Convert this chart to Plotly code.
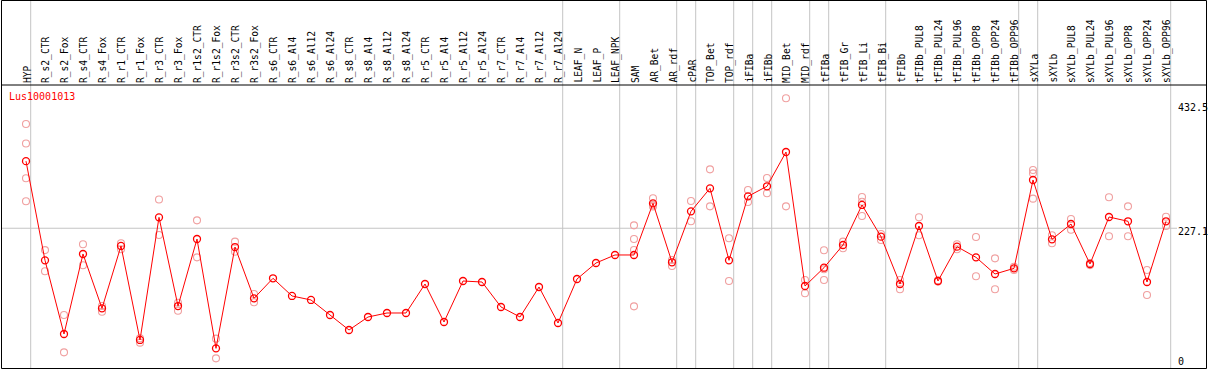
import plotly.graph_objects as go

categories = [
    "HYP", "R_s2_CTR", "R_s2_Fox", "R_s4_CTR", "R_s4_Fox", "R_r1_CTR", "R_r1_Fox",
    "R_r3_CTR", "R_r3_Fox", "R_r1s2_CTR", "R_r1s2_Fox", "R_r3s2_CTR", "R_r3s2_Fox",
    "R_s6_CTR", "R_s6_Al4", "R_s6_Al12", "R_s6_Al24", "R_s8_CTR", "R_s8_Al4",
    "R_s8_Al12", "R_s8_Al24", "R_r5_CTR", "R_r5_Al4", "R_r5_Al12", "R_r5_Al24",
    "R_r7_CTR", "R_r7_Al4", "R_r7_Al12", "R_r7_Al24", "LEAF_N", "LEAF_P", "LEAF_NPK",
    "SAM", "AR_Bet", "AR_rdf", "cPAR", "TOP_Bet", "TOP_rdf", "iFIBa", "iFIBb",
    "MID_Bet", "MID_rdf", "tFIBa", "tFIB_Gr", "tFIB_Li", "tFIB_Bi", "tFIBb",
    "tFIBb_PUL8", "tFIBb_PUL24", "tFIBb_PUL96", "tFIBb_OPP8", "tFIBb_OPP24",
    "tFIBb_OPP96", "sXYLa", "sXYLb", "sXYLb_PUL8", "sXYLb_PUL24", "sXYLb_PUL96",
    "sXYLb_OPP8", "sXYLb_OPP24", "sXYLb_OPP96",
]

means = [
    341, 172.6, 47.5, 183.4, 91.1, 197, 37.4, 245.6, 95, 208.8, 23.2, 195.2, 108.1,
    142.1, 112.1, 105.3, 79.8, 54.3, 76.4, 83.2, 83.2, 132.4, 67.9, 137.5, 135.8,
    93.4, 76.4, 127.3, 66.2, 140.9, 168.1, 181.7,
    181.7, 269.4, 169.3, 255.8, 294.9, 172.6, 281.3, 298.3, 356.5, 129, 160.1,
    198.6, 266.6, 212.8, 132.4, 230.9, 137.5, 195.8, 177.7, 149.4, 159,
    309, 208.3, 234.3, 166.4, 246.2, 238.9, 135.8, 238.9,
]

replicates = [
    [404, 371, 312, 273], [190, 154], [79.8, 16.4], [199.8, 164.2], [95, 85.4],
    [201.5, 191.3], [40.2, 32.8], [276, 215.6], [100.7, 87.1], [240.5, 177.7],
    [39.6, 6.2], [204.3, 187.3], [115.4, 101.4],
    [], [], [], [], [], [], [], [], [], [], [], [], [], [], [], [], [], [], [],
    [232, 208.8, 190.2, 94.5], [278, 264, 266], [173.2, 163], [273.3, 238.9],
    [327.1, 264.3], [210, 137.5], [292, 271.6], [312.4, 286.4], [447.7, 264.3],
    [139.2, 116.6], [189.6, 157.4, 139.2], [204.3, 193], [280.1, 247.9, 272],
    [217.3, 207.1], [139.2, 123.4], [245.7, 215.1], [138.5, 136.5],
    [199.8, 191.3], [212.2, 145.5], [176, 123.4], [161.8, 156.2],
    [326, 320.3, 277.3], [215.1, 201.5], [242.8, 224.6], [168, 164.5],
    [279.6, 213.4], [264.3, 213.4], [156.2, 113.8], [246.7, 230.9],
]

group_ends = ["HYP", "R_r7_Al24", "LEAF_NPK", "AR_rdf", "cPAR", "TOP_rdf", "iFIBa",
              "iFIBb", "MID_rdf", "tFIBa", "tFIB_Bi", "tFIBb_OPP96", "sXYLa",
              "sXYLb_OPP96"]

tick_vals = [432.5, 227.1, 0]
tick_text = ["432.5", "227.1", "0"]
title_text = "Lus10001013"

# ---- layout geometry (pixels) ----
W, H = 1209, 370
PLOT_L, PLOT_R, PLOT_T, PLOT_B = 1, 1170, 85, 368
FIRST_X, COL_W = 26, 19
Y_MIN, Y_MAX = -10.2, 470.3
X_MIN = (PLOT_L - FIRST_X) / COL_W
X_MAX = (PLOT_R - FIRST_X) / COL_W
SEP_OFF = 0.247

def px_x(px):
    return (px - PLOT_L) / (PLOT_R - PLOT_L)

def px_y(py):
    return (PLOT_B - py) / (PLOT_B - PLOT_T)

def data_to_paper_x(v):
    return (v - X_MIN) / (X_MAX - X_MIN)

idx = list(range(len(categories)))
rep_x, rep_y = [], []
for i, reps in enumerate(replicates):
    for r in reps:
        rep_x.append(i)
        rep_y.append(r)

MONO = "DejaVu Sans Mono"
GREY = "#c4c4c4"

fig = go.Figure()
fig.add_trace(go.Scatter(
    x=rep_x, y=rep_y, mode="markers", hoverinfo="skip",
    marker=dict(symbol="circle-open", size=7, color="#f0a0a0", line=dict(width=1.1)),
))
fig.add_trace(go.Scatter(
    x=idx, y=means, mode="lines+markers",
    line=dict(color="#ff0000", width=1),
    marker=dict(symbol="circle-open", size=7, color="#ff0000", line=dict(width=1.3)),
))

shapes = []
# separators (through header and plot)
for name in group_ends:
    i = categories.index(name)
    xp = data_to_paper_x(i + SEP_OFF)
    shapes.append(dict(type="line", xref="paper", yref="paper", x0=xp, x1=xp,
                       y0=px_y(PLOT_B), y1=px_y(0), line=dict(color=GREY, width=1),
                       layer="below"))
# horizontal grid at middle tick
shapes.append(dict(type="line", xref="paper", yref="y", x0=px_x(1), x1=px_x(1177),
                   y0=tick_vals[1], y1=tick_vals[1], line=dict(color=GREY, width=1),
                   layer="below"))
# outer border
shapes.append(dict(type="rect", xref="paper", yref="paper", x0=px_x(1.5), x1=px_x(1206.5),
                   y0=px_y(368.5), y1=px_y(0.5), line=dict(color="black", width=1)))
# header separator
shapes.append(dict(type="line", xref="paper", yref="paper", x0=px_x(1), x1=px_x(1207),
                   y0=px_y(85), y1=px_y(85), line=dict(color="black", width=1)))

annotations = []
for i, name in enumerate(categories):
    annotations.append(dict(
        x=i, y=px_y(84), xref="x", yref="paper", text=name, showarrow=False,
        textangle=-90, xanchor="center", yanchor="bottom", xshift=1,
        font=dict(family=MONO, size=9.6, color="black"), borderpad=0,
    ))
annotations.append(dict(
    x=px_x(8), y=px_y(97), xref="paper", yref="paper", text=title_text,
    showarrow=False, xanchor="left", yanchor="middle",
    font=dict(family=MONO, size=10, color="#ff0000"), borderpad=0,
))
for v, t in zip(tick_vals, tick_text):
    annotations.append(dict(
        x=px_x(1177), y=v, xref="paper", yref="y", text=t, showarrow=False,
        xanchor="left", yanchor="middle", yshift=-3 if v == tick_vals[1] else 0,
        font=dict(family=MONO, size=10, color="black"), borderpad=0,
    ))

fig.update_layout(
    width=W, height=H,
    margin=dict(l=PLOT_L, r=W - PLOT_R, t=PLOT_T, b=H - PLOT_B, pad=0, autoexpand=False),
    paper_bgcolor="white", plot_bgcolor="white",
    showlegend=False,
    xaxis=dict(range=[X_MIN, X_MAX], visible=False, showgrid=False, zeroline=False, fixedrange=True),
    yaxis=dict(range=[Y_MIN, Y_MAX], visible=False, showgrid=False, zeroline=False, fixedrange=True),
    shapes=shapes, annotations=annotations,
)

fig.write_html("out.html", config={"displayModeBar": False},
               post_script="document.body.style.margin='0px';document.body.style.overflow='hidden';")
